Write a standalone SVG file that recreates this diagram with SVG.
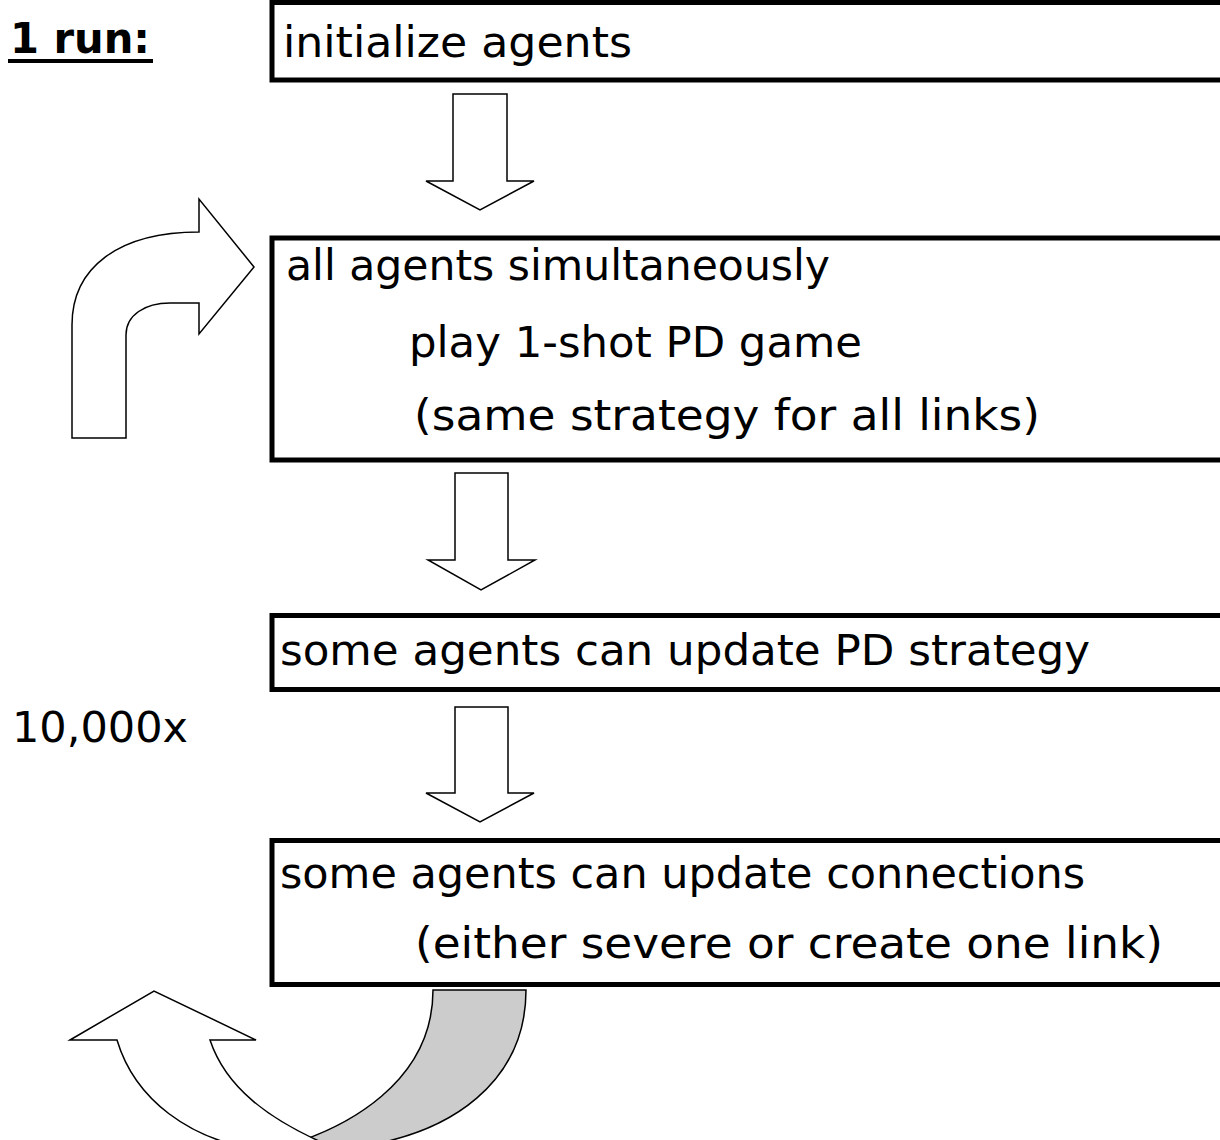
<svg xmlns="http://www.w3.org/2000/svg" width="1220" height="1140" viewBox="0 0 1220 1140">
<style>
.box{fill:#fff;stroke:#000;stroke-width:5}
.arr{fill:#fff;stroke:#000;stroke-width:1.5;stroke-linejoin:miter}
.t{font-family:"DejaVu Sans","Liberation Sans",sans-serif;font-size:42px;fill:#000}
.b{font-weight:bold}
</style>
<rect width="1220" height="1140" fill="#fff"/>
<g id="label-run">
<text class="t b" x="10" y="53" textLength="140" lengthAdjust="spacingAndGlyphs">1 run:</text>
<rect x="8" y="59" width="145" height="4" fill="#000"/>
</g>
<g id="label-count">
<text class="t" x="12" y="742" textLength="176" lengthAdjust="spacingAndGlyphs">10,000x</text>
</g>
<g id="node-init">
<rect class="box" x="272" y="2.5" width="960" height="77.5"/>
<text class="t" x="283" y="57" textLength="349" lengthAdjust="spacingAndGlyphs">initialize agents</text>
</g>
<g id="node-play">
<rect class="box" x="272" y="238" width="960" height="222"/>
<text class="t" x="286" y="280" textLength="544" lengthAdjust="spacingAndGlyphs">all agents simultaneously</text>
<text class="t" x="409" y="357" textLength="453" lengthAdjust="spacingAndGlyphs">play 1-shot PD game</text>
<text class="t" x="414" y="430" textLength="626" lengthAdjust="spacingAndGlyphs">(same strategy for all links)</text>
</g>
<g id="node-strategy">
<rect class="box" x="272" y="615.5" width="960" height="74"/>
<text class="t" x="280" y="665" textLength="810" lengthAdjust="spacingAndGlyphs">some agents can update PD strategy</text>
</g>
<g id="node-connections">
<rect class="box" x="272" y="840.5" width="960" height="144"/>
<text class="t" x="280" y="888" textLength="805" lengthAdjust="spacingAndGlyphs">some agents can update connections</text>
<text class="t" x="415" y="958" textLength="748" lengthAdjust="spacingAndGlyphs">(either severe or create one link)</text>
</g>
<g id="connectors">
<path class="arr" d="M453,94 L507,94 L507,181 L534,181 L480,210 L426,181 L453,181 Z"/>
<path class="arr" d="M455,473 L508,473 L508,560 L535,560 L481,590 L428,560 L455,560 Z"/>
<path class="arr" d="M455,707 L508,707 L508,793 L534,793 L480,822 L426,793 L455,793 Z"/>
<path class="arr" d="M72,438 L72,325 C72,268 118,232 199,232 L199,199 L254,267 L199,334 L199,303 L170,303 C145,303 126,315 126,335 L126,438 Z"/>
<path class="arr" fill="#ccc" style="fill:#ccc" d="M433,990 L526,990 C526,1075 460,1140 330,1150 L270,1150 C350,1130 433,1080 433,990 Z"/>
<path class="arr" d="M70,1040 L154,991 L256,1040 L210,1040 C225,1085 265,1120 340,1150 L260,1150 C190,1140 135,1100 117,1040 Z"/>
</g>
</svg>
